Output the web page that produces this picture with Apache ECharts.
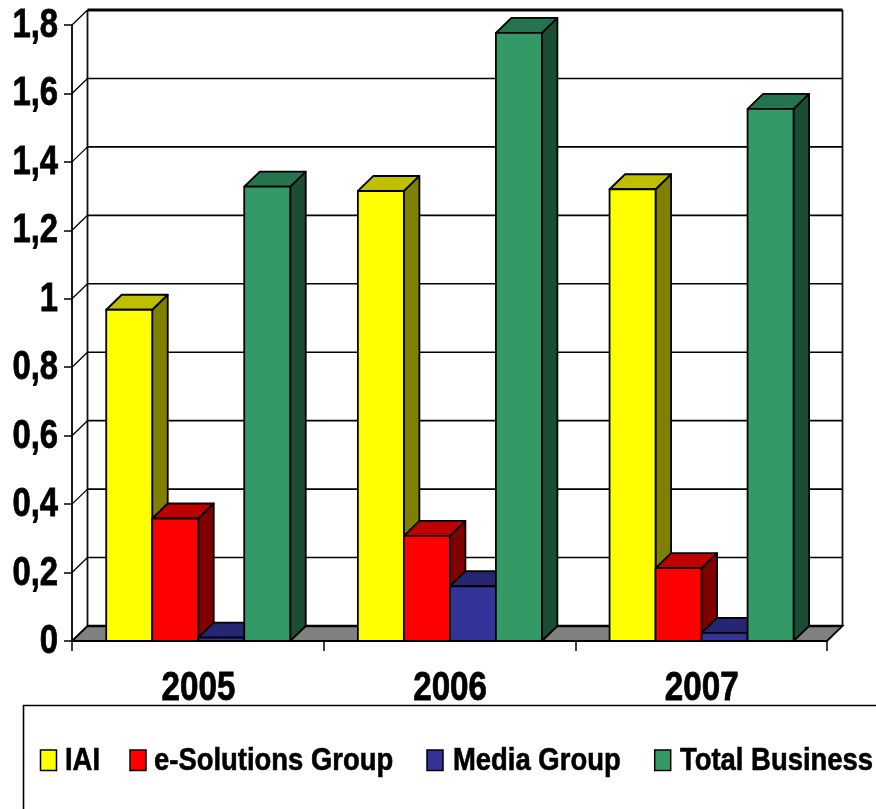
<!DOCTYPE html>
<html><head><meta charset="utf-8">
<style>html,body{margin:0;padding:0;background:#fff}#c{width:876px;height:809px}</style>
<script src="https://cdn.jsdelivr.net/npm/echarts@6/dist/echarts.min.js"></script>
</head><body><div id="c"></div>
<script>
const categories = ['2005', '2006', '2007'];
const yTicks = [0, 0.2, 0.4, 0.6, 0.8, 1, 1.2, 1.4, 1.6, 1.8];
const yTickLabels = ['0', '0,2', '0,4', '0,6', '0,8', '1', '1,2', '1,4', '1,6', '1,8'];
const seriesNames = ['IAI', 'e-Solutions Group', 'Media Group', 'Total Business'];
const iai = [0.968, 1.315, 1.32];
const eSolutions = [0.358, 0.307, 0.213];
const mediaGroup = [0.01, 0.16, 0.024];
const totalBusiness = [1.328, 1.777, 1.555];
const frontColors = ['#FFFF00', '#FF0000', '#333399', '#339966'];
const topColors = ['#BFBF00', '#BF0000', '#262673', '#267350'];
const sideColors = ['#808000', '#800000', '#1A1A4D', '#1A4D33'];

const FONT = '"Liberation Sans",Arial,sans-serif';
const DX = 15.5, DY = 15, BAR_RATIO = 0.1828;
const heavy = { stroke: '#000', lineWidth: 0.8 };

function barSeries(index, values) {
  const front = frontColors[index], top = topColors[index], side = sideColors[index];
  return {
    type: 'custom', name: seriesNames[index], clip: false, z: 5,
    itemStyle: { color: front },
    data: values.map((v, i) => [i, v]),
    encode: { x: 0, y: 1 },
    renderItem(params, api) {
      const base = api.coord([api.value(0), 0]);
      const tip = api.coord([api.value(0), api.value(1)]);
      const w = api.size([1, 0])[0] * BAR_RATIO;
      const x0 = base[0] - 2 * w + index * w + 0.4, x1 = x0 + w;
      const y0 = base[1], y1 = tip[1];
      const line = { stroke: '#000', lineWidth: 1.8, lineJoin: 'round' };
      const poly = (points, fill) => ({ type: 'polygon', shape: { points }, style: { fill, ...line } });
      return { type: 'group', children: [
        poly([[x1, y0], [x1 + DX, y0 - DY], [x1 + DX, y1 - DY], [x1, y1]], side),
        poly([[x0, y1], [x0 + DX, y1 - DY], [x1 + DX, y1 - DY], [x1, y1]], top),
        poly([[x0, y0], [x1, y0], [x1, y1], [x0, y1]], front)
      ] };
    }
  };
}

const wallSeries = {
  type: 'custom', name: 'wall', clip: false, z: 1, silent: true,
  data: yTicks.map((v, i) => [0, v, i]),
  encode: { y: 1 },
  renderItem(params, api) {
    const v = api.value(1);
    const y = api.coord([0, v])[1];
    const xFront = params.coordSys.x, xEnd = xFront + params.coordSys.width;
    const children = [];
    if (v === 0) {
      const top = params.coordSys.y - DY;
      children.push({ type: 'line', shape: { x1: xFront + DX, y1: y - DY, x2: xFront + DX, y2: top }, style: { stroke: '#111', lineWidth: 1.8 } });
      children.push({ type: 'line', shape: { x1: xEnd + DX, y1: y - DY, x2: xEnd + DX, y2: top }, style: { stroke: '#111', lineWidth: 1.8 } });
      children.push({ type: 'polygon', shape: { points: [[xFront, y], [xFront + DX, y - DY], [xEnd + DX, y - DY], [xEnd, y]] },
        style: { fill: '#808080', stroke: '#000', lineWidth: 1.8 } });
      children.push({ type: 'line', shape: { x1: xFront + DX, y1: y - DY, x2: xEnd + DX, y2: y - DY }, style: { stroke: '#000', lineWidth: 2.4 } });
    } else {
      children.push({ type: 'line', shape: { x1: xFront, y1: y, x2: xFront + DX, y2: y - DY }, style: { stroke: '#000', lineWidth: 1.3 } });
      children.push({ type: 'line', shape: { x1: xFront + DX, y1: y - DY, x2: xEnd + DX, y2: y - DY },
        style: { stroke: '#000', lineWidth: v === 1.8 ? 3.2 : 1.6 } });
    }
    children.push({ type: 'text', x: xFront - 14, y: y + 1, scaleX: 0.82,
      style: { text: yTickLabels[api.value(2)], align: 'right', verticalAlign: 'middle', fill: '#000', ...heavy,
        fontFamily: FONT, fontWeight: 'bold', fontSize: 40 } });
    return { type: 'group', children };
  }
};

const xLabelSeries = {
  type: 'custom', name: 'xLabels', clip: false, z: 6, silent: true,
  data: categories.map((c, i) => [i, 0]),
  encode: { x: 0, y: 1 },
  renderItem(params, api) {
    const p = api.coord([api.value(0), 0]);
    return { type: 'text', x: p[0] + 0.6, y: p[1] + 47.5, scaleX: 0.81,
      style: { text: categories[api.value(0)], align: 'center', verticalAlign: 'middle', fill: '#000', ...heavy,
        fontFamily: FONT, fontWeight: 'bold', fontSize: 41 } };
  }
};

const legendMarkerX = [40.5, 130, 427, 654.7];
const legendTextX = [65, 154, 453, 680];
const legendGraphics = [{ type: 'rect', z: -1, silent: true, shape: { x: 23.5, y: 705.5, width: 900, height: 200 },
  style: { fill: '#fff', stroke: '#000', lineWidth: 1.6 } }];
seriesNames.forEach((name, i) => {
  legendGraphics.push({ type: 'rect', silent: true, shape: { x: legendMarkerX[i], y: 750, width: 16, height: 20.5 },
    style: { fill: frontColors[i], stroke: '#000', lineWidth: 1.5 } });
  legendGraphics.push({ type: 'text', silent: true, x: legendTextX[i], y: 761.5, scaleX: 0.885,
    style: { text: name, align: 'left', verticalAlign: 'middle', fill: '#000', stroke: '#000', lineWidth: 0.6,
      fontFamily: FONT, fontWeight: 'bold', fontSize: 31 } });
});

const chart = echarts.init(document.getElementById('c'), null, { renderer: 'canvas' });
chart.setOption({
  animation: false,
  backgroundColor: '#fff',
  grid: { left: 72, right: 49, top: 25, bottom: 168 },
  xAxis: {
    type: 'category', data: categories,
    axisLine: { show: true, lineStyle: { color: '#000', width: 1.8 } },
    axisTick: { show: true, alignWithLabel: false, length: 10, lineStyle: { color: '#000', width: 1.5 } },
    axisLabel: { show: false }
  },
  yAxis: {
    type: 'value', min: 0, max: 1.8, interval: 0.2,
    splitLine: { show: false },
    axisLine: { show: true, lineStyle: { color: '#000', width: 1.8 } },
    axisTick: { show: true, length: 8, lineStyle: { color: '#000', width: 1.5 } },
    axisLabel: { show: false }
  },
  graphic: legendGraphics,
  series: [
    wallSeries,
    barSeries(0, iai),
    barSeries(1, eSolutions),
    barSeries(2, mediaGroup),
    barSeries(3, totalBusiness),
    xLabelSeries
  ]
});
</script></body></html>
